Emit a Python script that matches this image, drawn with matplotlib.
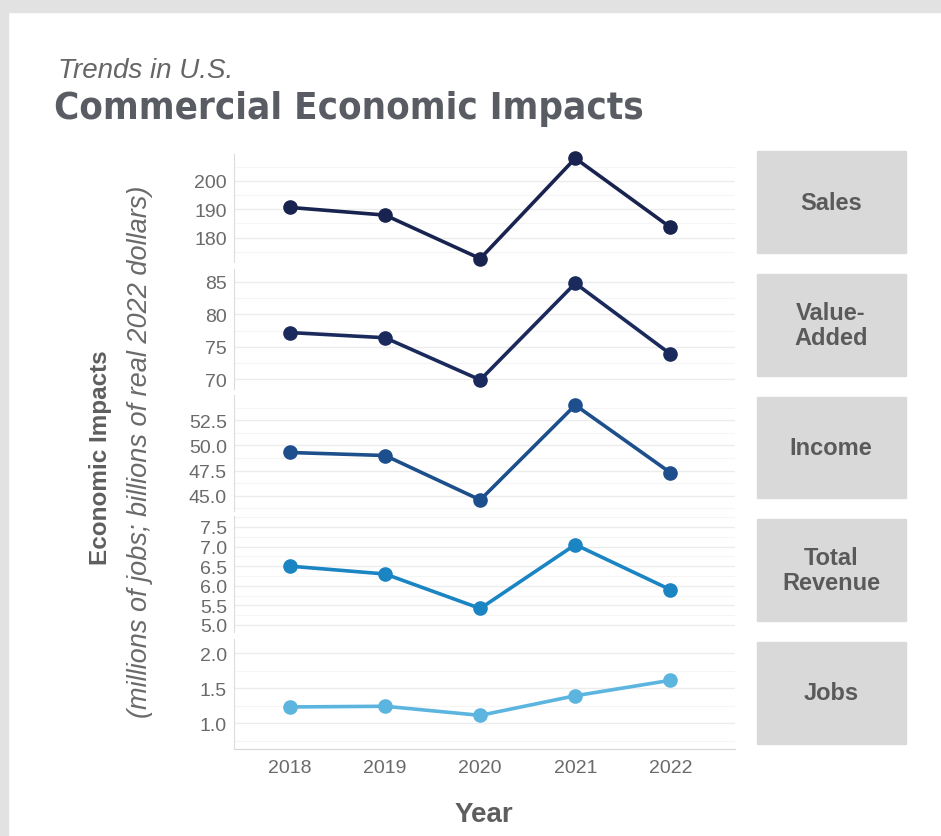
import matplotlib
matplotlib.use("Agg")
import matplotlib.pyplot as plt
from matplotlib.patches import Rectangle
from matplotlib.ticker import FormatStrFormatter, FixedLocator

plt.rcParams['font.family'] = ['Liberation Sans', 'DejaVu Sans']

# data
years = [2018, 2019, 2020, 2021, 2022]
sales = [190.6, 187.9, 172.6, 207.9, 183.6]
value_added = [77.2, 76.4, 69.9, 84.8, 73.9]
income = [49.3, 49.0, 44.6, 54.0, 47.3]
total_revenue = [6.5, 6.3, 5.42, 7.05, 5.9]
jobs = [1.23, 1.24, 1.11, 1.39, 1.61]

panel_names = ['Sales', 'Value-\nAdded', 'Income', 'Total\nRevenue', 'Jobs']
series = [sales, value_added, income, total_revenue, jobs]
colors = ['#18234f', '#1b2a5c', '#1d4f8c', '#1b84c3', '#5bb5de']
yticks = [[180, 190, 200], [70, 75, 80, 85], [45, 47.5, 50, 52.5],
          [5.0, 5.5, 6.0, 6.5, 7.0, 7.5], [1.0, 1.5, 2.0]]
ylims = [(171.4, 209.4), (68.5, 87.0), (43.5, 55.0), (4.82, 7.78), (0.63, 2.2)]
fmts = ['%d', '%d', '%.1f', '%.1f', '%.1f']

W, H = 941, 837
fig = plt.figure(figsize=(W / 100, H / 100), dpi=100)


def rect(x0, y0, x1, y1):
    # pixel box (top-left origin) -> figure fraction
    return [x0 / W, 1 - y1 / H, (x1 - x0) / W, (y1 - y0) / H]


# light frame round the figure
fig.patches.append(Rectangle((0, 1 - 13 / H), 1, 13 / H, transform=fig.transFigure,
                             color='#e2e2e2', zorder=0))
fig.patches.append(Rectangle((0, 0), 8 / W, 1, transform=fig.transFigure,
                             color='#e2e2e2', zorder=0))

panels = [(155, 263), (270, 390), (396, 512), (517, 633), (640, 750)]
strips = [(152, 254), (275, 377), (398, 499), (520, 622), (643, 745)]

for i in range(5):
    top, bot = panels[i]
    ax = fig.add_axes(rect(234, top, 735, bot))
    ax.plot(years, series[i], color=colors[i], lw=2.6, marker='o', ms=9.5, zorder=3,
            clip_on=False)
    ax.set_xlim(2017.41, 2022.68)
    ax.set_ylim(*ylims[i])
    ax.yaxis.set_major_locator(FixedLocator(yticks[i]))
    step = yticks[i][1] - yticks[i][0]
    minors = [v + step / 2 for v in [yticks[i][0] - step] + yticks[i]]
    ax.yaxis.set_minor_locator(FixedLocator(minors))
    ax.yaxis.set_major_formatter(FormatStrFormatter(fmts[i]))
    ax.grid(axis='y', which='major', color='#ececec', lw=1.0)
    ax.grid(axis='y', which='minor', color='#f5f5f5', lw=0.8)
    ax.set_axisbelow(True)
    for s in ['top', 'right']:
        ax.spines[s].set_visible(False)
    ax.spines['left'].set_color('#dcdcdc')
    ax.tick_params(axis='y', which='both', length=0, pad=5, labelsize=14, labelcolor='#6a6a6a')
    ax.tick_params(axis='y', which='minor', labelleft=False)
    if i < 4:
        ax.spines['bottom'].set_visible(False)
        ax.tick_params(axis='x', length=0, labelbottom=False)
    else:
        ax.spines['bottom'].set_color('#d6d6d6')
        ax.set_xticks(years)
        ax.tick_params(axis='x', length=0, pad=7, labelsize=14, labelcolor='#6a6a6a')

    s0, s1 = strips[i]
    fig.patches.append(Rectangle((757 / W, 1 - s1 / H), (906 - 757) / W, (s1 - s0) / H,
                                 transform=fig.transFigure, color='#d9d9d9', zorder=1))
    fig.text(831 / W, 1 - (s0 + s1) / 2 / H, panel_names[i], ha='center', va='center',
             fontsize=17, fontweight='bold', color='#5a5a5a', linespacing=1.15)

fig.text(58 / W, 1 - 78 / H, 'Trends in U.S.', fontsize=20, style='italic',
         color='#666666', va='baseline')
fig.text(54 / W, 1 - 119 / H, 'Commercial Economic Impacts', fontsize=27.5,
         fontweight='bold', fontstretch='condensed', family=['DejaVu Sans'],
         color='#595d63', va='baseline')

fig.text(100 / W, 1 - 458 / H, 'Economic Impacts', rotation=90, ha='center', va='center',
         fontsize=17.5, fontweight='bold', color='#5e5e5e')
fig.text(140 / W, 1 - 452 / H, '(millions of jobs; billions of real 2022 dollars)',
         rotation=90, ha='center', va='center', fontsize=19.5, style='italic',
         color='#6a6a6a')
fig.text(484 / W, 1 - 815 / H, 'Year', ha='center', va='center', fontsize=20,
         fontweight='bold', color='#5e5e5e')

fig.savefig('out.png', dpi=100)
